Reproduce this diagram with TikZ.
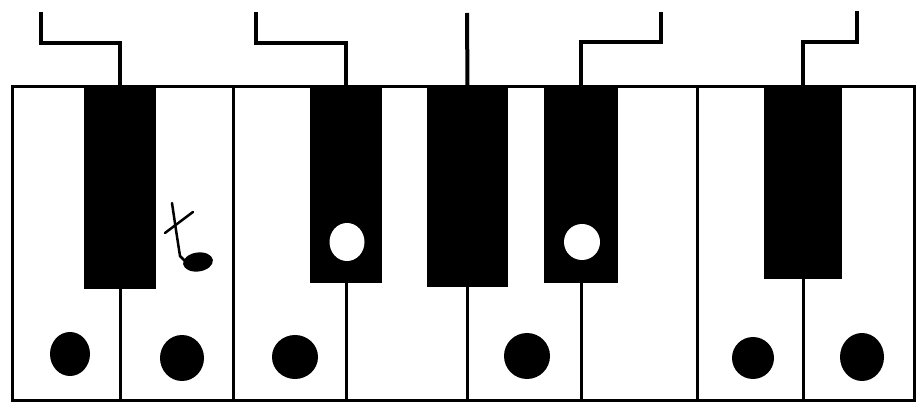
\documentclass[tikz,border=0pt]{standalone}
\begin{document}
\begin{tikzpicture}[x=1pt,y=-1pt,
  blackkey/.style={fill=black,draw=none,inner sep=0pt,outer sep=0pt,anchor=north west},
  keyline/.style={line width=3pt},
  stem/.style={line width=4pt},
  dot/.style={fill=black},
  hole/.style={fill=white}]
\useasboundingbox (0,0) rectangle (916,403);
% outline
\draw[keyline] (12,87) rectangle (914,400);
% full-height dividers
\draw[keyline] (233,87) -- (233,400);
\draw[keyline] (697,87) -- (697,400);
% black keys
\node[blackkey,minimum width=72pt,minimum height=202pt] (k1) at (84,87) {};
\node[blackkey,minimum width=72pt,minimum height=196pt] (k2) at (310,87) {};
\node[blackkey,minimum width=81pt,minimum height=200pt] (k3) at (427,87) {};
\node[blackkey,minimum width=74pt,minimum height=196pt] (k4) at (544,87) {};
\node[blackkey,minimum width=78pt,minimum height=192pt] (k5) at (764,87) {};
% dividers under black keys
\draw[keyline] (k1.south) -- (k1.south |- 0,400);
\draw[keyline] (k2.south) -- (k2.south |- 0,400);
\draw[keyline] (k3.south) -- (k3.south |- 0,400);
\draw[keyline] (k4.south) -- (k4.south |- 0,400);
\draw[keyline] (k5.south) -- (k5.south |- 0,400);
% stems
\coordinate (s1) at (41,12);
\coordinate (s2) at (256,12);
\coordinate (s3) at (467,13);
\coordinate (s4) at (661,12);
\coordinate (s5) at (857,11);
\draw[stem] (s1) -- (41,43) -| (k1.north);
\draw[stem] (s2) -- (256,43) -| (k2.north);
\draw[stem] (s3) -- (k3.north);
\draw[stem] (s4) -- (661,42) -| (k4.north);
\draw[stem] (s5) -- (857,42) -| (k5.north);
% dots on white keys
\fill[dot] (70,354) ellipse [x radius=20, y radius=22];
\fill[dot] (182,358) ellipse [x radius=22, y radius=23];
\fill[dot] (295,357) ellipse [x radius=23, y radius=22];
\fill[dot] (527,356) ellipse [x radius=23, y radius=23];
\fill[dot] (753,358) ellipse [x radius=21, y radius=21];
\fill[dot] (862,357) ellipse [x radius=22, y radius=24];
% holes in black keys
\fill[hole] (347,242) ellipse [x radius=17.5, y radius=19];
\fill[hole] (582,242) ellipse [x radius=18, y radius=18];
% note symbol
\draw[line width=2.5pt,line cap=round] (172,203) -- (176,230) -- (180,256) -- (186,262);
\draw[line width=2.5pt,line cap=round] (165,233) -- (193,212);
\fill[black,rotate around={8:(198,262)}] (198,262) ellipse [x radius=15, y radius=9.5];
\end{tikzpicture}
\end{document}
